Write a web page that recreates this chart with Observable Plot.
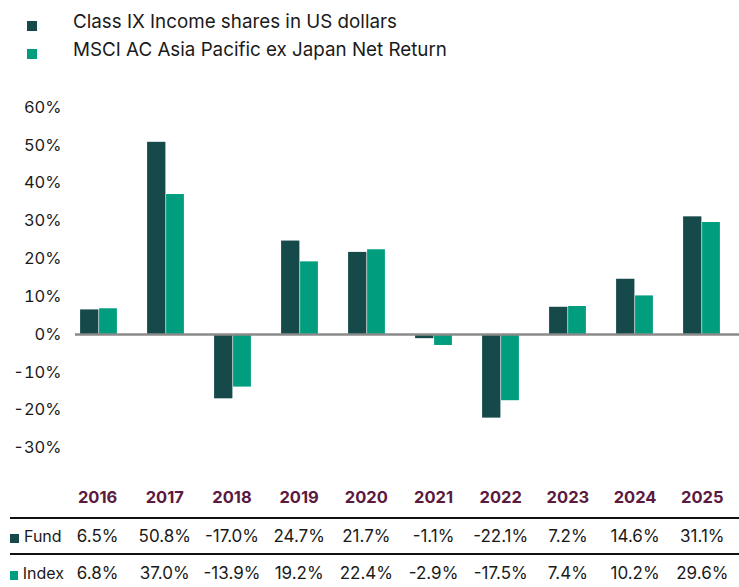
<!DOCTYPE html>
<html>
<head>
<meta charset="utf-8">
<script src="https://cdn.jsdelivr.net/npm/d3@7"></script>
<script src="https://cdn.jsdelivr.net/npm/@observablehq/plot@0.6"></script>
<style>
  html, body { margin: 0; padding: 0; background: #fff; width: 739px; height: 587px; overflow: hidden; }
  body { font-family: "Inter", "Lato", sans-serif; color: #1a1a1a; }
  #legend { height: 85px; position: relative; }
  .lg { position: absolute; left: 27px; display: flex; align-items: center; font-size: 18.8px; line-height: 24px; }
  .lg .sw { width: 10px; height: 10px; margin-right: 36px; position: relative; top: 4px; }
  #chart svg { display: block; }
  .row { display: flex; width: 729px; margin-left: 10px; border-bottom: 2px solid #111; box-sizing: border-box; }
  .row.last { border-bottom: none; }
  .cell { flex: none; width: 67.2px; text-align: center; font-size: 17px; line-height: 20px; white-space: nowrap; }
  .first { flex: none; width: 54px; display: flex; align-items: center; font-size: 16px; line-height: 20px; }
  .first .sw { width: 9px; height: 9px; margin-right: 5px; position: relative; top: 2px; }
  .cell.yr { font-weight: 700; color: #5b1a40; font-size: 16.5px; }
</style>
</head>
<body>
<div id="legend"></div>
<div id="chart"></div>
<div id="table"></div>
<script>
const years = ["2016","2017","2018","2019","2020","2021","2022","2023","2024","2025"];
const fundValues = [6.5, 50.8, -17.0, 24.7, 21.7, -1.1, -22.1, 7.2, 14.6, 31.1];
const indexValues = [6.8, 37.0, -13.9, 19.2, 22.4, -2.9, -17.5, 7.4, 10.2, 29.6];
const seriesNames = ["Class IX Income shares in US dollars", "MSCI AC Asia Pacific ex Japan Net Return"];
const rowLabels = ["Fund", "Index"];
const seriesColors = ["#15494a", "#009e7e"];
const yTicks = [-30, -20, -10, 0, 10, 20, 30, 40, 50, 60];

const fundData = years.map((y, i) => ({year: y, value: fundValues[i]}));
const indexData = years.map((y, i) => ({year: y, value: indexValues[i]}));

// Legend
const legend = d3.select("#legend");
seriesNames.forEach((name, i) => {
  const item = legend.append("div").attr("class", "lg").style("top", (10 + i * 28) + "px");
  item.append("div").attr("class", "sw").style("background", seriesColors[i]);
  item.append("span").text(name);
});

const plot = Plot.plot({
  width: 739,
  height: 385,
  marginLeft: 64,
  marginRight: 3,
  marginTop: 22,
  marginBottom: 22.5,
  style: { fontFamily: "Inter, Lato, sans-serif", fontSize: "16.5px", color: "#1a1a1a" },
  x: { domain: years, padding: 0, axis: null },
  y: { domain: [-30, 60], ticks: yTicks, tickFormat: d => d + "%", tickSize: 0, tickPadding: 3, label: null },
  marks: [
    Plot.barY(fundData, { x: "year", y: "value", fill: seriesColors[0], insetLeft: 15.1, insetRight: 33.6 }),
    Plot.barY(indexData, { x: "year", y: "value", fill: seriesColors[1], insetLeft: 34.1, insetRight: 15.1 }),
    Plot.ruleY([0], { stroke: "#8a8a8a", strokeWidth: 2.5, insetLeft: 11, insetRight: -3 })
  ]
});
document.getElementById("chart").appendChild(plot);

// Table
const table = d3.select("#table");
const yr = table.append("div").attr("class", "row").style("padding-top", "17px").style("padding-bottom", "10px");
yr.append("div").attr("class", "first");
years.forEach(y => yr.append("div").attr("class", "cell yr").text(y));

const fmt = v => v.toFixed(1) + "%";
[fundValues, indexValues].forEach((vals, r) => {
  const row = table.append("div").attr("class", "row" + (r === 1 ? " last" : ""))
    .style("padding-top", r === 0 ? "7px" : "8px").style("padding-bottom", "7px");
  const f = row.append("div").attr("class", "first");
  f.append("div").attr("class", "sw").style("background", seriesColors[r]);
  f.append("span").text(rowLabels[r]);
  vals.forEach(v => row.append("div").attr("class", "cell").text(fmt(v)));
});
</script>
</body>
</html>
